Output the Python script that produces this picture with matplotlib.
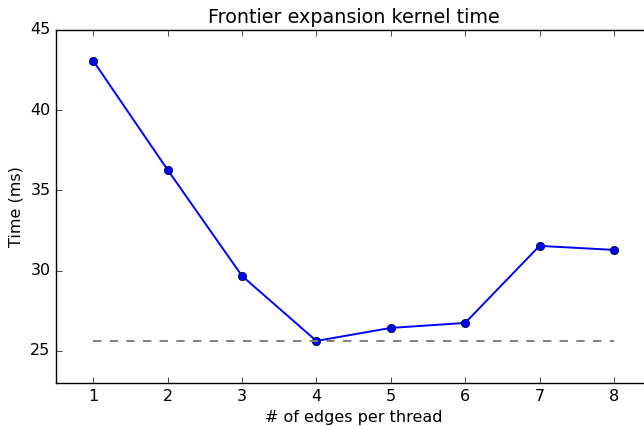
import matplotlib
matplotlib.use("Agg")
import matplotlib.pyplot as plt

edges = [1, 2, 3, 4, 5, 6, 7, 8]
times = [43.07, 36.28, 29.67, 25.62, 26.43, 26.74, 31.54, 31.29]
best = min(times)

plt.style.use('classic')
plt.rcParams['font.size'] = 11.5
fig = plt.figure(figsize=(6.44, 4.26), dpi=100, facecolor='white')
ax = fig.add_axes([0.087, 0.101, 0.924, 0.829])

ax.plot(edges, times, 'b-o', linewidth=1.4, markersize=6)
ax.plot([edges[0], edges[-1]], [best, best], '--', color='gray', linewidth=1.4)

ax.set_xlim(0.5, 8.5)
ax.set_ylim(23, 45)
ax.set_xticks(edges)
ax.set_yticks([25, 30, 35, 40, 45])
ax.set_xlabel("# of edges per thread")
ax.set_ylabel("Time (ms)")
ax.set_title("Frontier expansion kernel time")

fig.savefig("out.png", dpi=100, facecolor='white')
